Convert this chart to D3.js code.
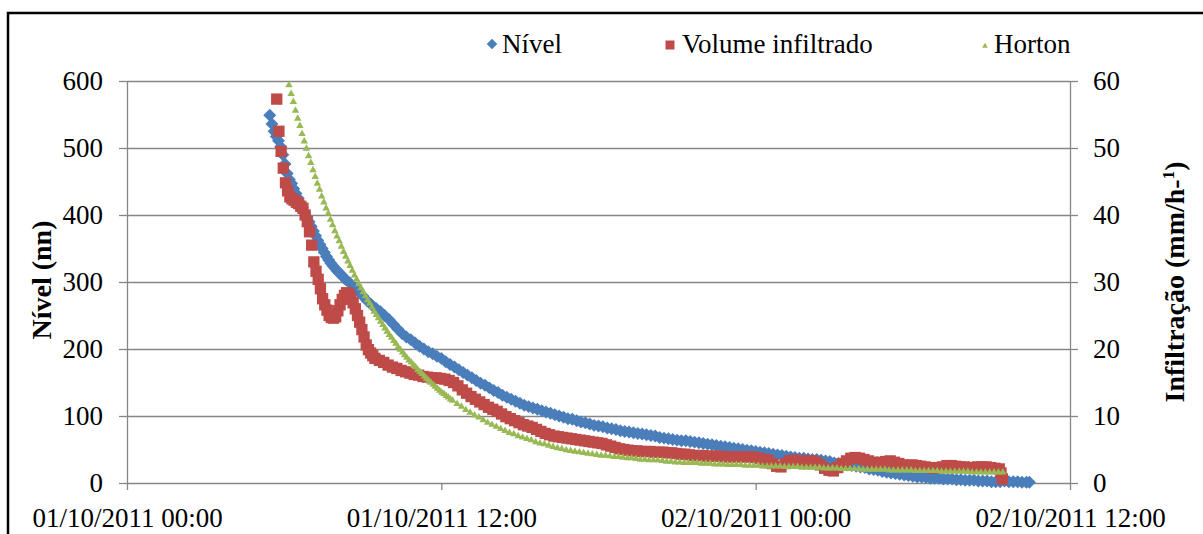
<!DOCTYPE html>
<html lang="pt">
<head>
<meta charset="UTF-8">
<title>Nível, volume infiltrado e Horton</title>
<script src="https://d3js.org/d3.v7.min.js"></script>
<style>
  body { margin: 0; background: #fff; }
  svg { display: block; font-family: "Liberation Serif", "Times New Roman", serif; }
  .axis path, .axis line { stroke: #868686; }
  .axis text { fill: #000; font-size: 27px; font-family: "Liberation Serif", "Times New Roman", serif; }
</style>
</head>
<body>
<div id="chart"></div>
<script>
// tempo em minutos desde 01/10/2011 00:00, valor
const nivel = [[327,549],[332,536],[337,525],[342,517],[347,511],[352,502],[357,490],[362,476],[367,462],[372,453],[377,447],[382,439],[387,432],[392,425],[397,418],[402,411],[407,403],[412,397],[417,390],[422,383],[427,376],[432,369],[437,362],[442,356],[447,350],[452,344],[457,338],[462,333],[467,328],[472,324],[477,320],[482,316],[487,313],[492,310],[497,306],[502,303],
  [510,299],[520,292],[530,286],[540,279],[550,272],[560,266],[570,261],[580,256],[590,250],[600,244],[610,237],[620,230],[630,223],[640,218],[650,214],[660,209],[670,204],[680,200],[690,196],[700,193],[710,189],[720,186],[730,181],[740,177],[750,173],[760,169],[770,165],[780,161],[790,157],[800,153],[810,149],[820,146],[830,142],[840,138],[850,135],[860,131],[870,128],[880,125],[890,122],[900,119],[910,116],[920,114],[930,112],[940,110],[950,108],[960,106],[970,104],[980,102],[990,100],[1000,98],[1010,96],[1020,95],[1030,93],[1040,91],[1050,90],[1060,88],[1070,86],[1080,85],[1090,84],[1100,82],[1110,81],[1120,80],[1130,78],[1140,77],[1150,76],[1160,75],[1170,74],[1180,73],[1190,72],[1200,71],[1210,70],[1220,68],[1230,67],[1240,66],[1250,65],[1260,64],[1270,63],[1280,63],[1290,62],[1300,61],[1310,60],[1320,59],[1330,58],[1340,57],[1350,56],[1360,55],[1370,54],[1380,53],[1390,52],[1400,51],[1410,50],[1420,49],[1430,48],[1440,47],[1450,46],[1460,45],[1470,44],[1480,43],[1490,42],[1500,41],[1510,40],[1520,39],[1530,38],[1540,37],[1550,37],[1560,36],[1570,35],[1580,35],[1590,34],[1600,33],[1610,32],[1620,30],[1630,29],[1640,28],[1650,27],[1660,26],[1670,25],[1680,24],[1690,23],[1700,21],[1710,20],[1720,19],[1730,17],[1740,16],[1750,15],[1760,14],[1770,13],[1780,12],[1790,11],[1800,10],[1810,9],[1820,9],[1830,8],[1840,7],[1850,7],[1860,7],[1870,6],[1880,6],[1890,6],[1900,5],[1910,5],[1920,4],[1930,4],[1940,4],[1950,3],[1960,3],[1970,3],[1980,2],[1990,2],[2000,2],[2010,3],[2020,2],[2030,2],[2040,2],[2050,1],[2060,1],[2067,1]];

const volumeInfiltrado = [[343,57.3],[348,52.5],[353,49.5],[358,47.0],[363,44.8],[368,43.6],[373,42.7],[378,42.4],[383,42.2],[388,41.9],[393,41.7],[398,41.3],[403,41.0],[408,40.0],[413,39.0],[418,37.5],[423,35.5],[428,33.0],[433,31.6],[438,30.4],[443,29.0],[448,27.5],[453,26.6],[458,25.8],[463,25.0],[468,24.7],[473,24.6],[478,24.8],[483,25.7],[488,26.6],[493,27.4],[498,28.0],[503,28.4],[508,28.2],[513,27.6],[518,26.9],[523,26.0],[528,25.0],[533,24.0],[538,22.9],[543,21.8],[548,20.6],[553,19.9],[558,19.4],[563,19.0],[568,18.6],
  [578,18.3],[588,18.0],[598,17.6],[608,17.3],[618,17.1],[628,16.8],[638,16.6],[648,16.4],[658,16.2],[668,16.1],[678,15.9],[688,15.8],[698,15.7],[708,15.7],[718,15.6],[728,15.5],[738,15.3],[748,15.0],[758,14.5],[768,13.9],[778,13.4],[788,12.9],[798,12.5],[808,12.1],[818,11.7],[828,11.3],[838,11.0],[848,10.7],[858,10.3],[868,9.9],[878,9.6],[888,9.3],[898,9.0],[908,8.7],[918,8.5],[928,8.3],[938,8.0],[948,7.7],[958,7.4],[968,7.2],[978,7.0],[988,6.9],[998,6.8],[1008,6.7],[1018,6.6],[1028,6.5],[1038,6.4],[1048,6.3],[1058,6.2],[1068,6.1],[1078,6.0],[1088,5.9],[1098,5.7],[1108,5.5],[1118,5.3],[1128,5.1],[1138,5.0],[1148,4.9],[1158,4.8],[1168,4.8],[1178,4.7],[1188,4.7],[1198,4.7],[1208,4.6],[1218,4.6],[1228,4.6],[1238,4.5],[1248,4.5],[1258,4.4],[1268,4.3],[1278,4.3],[1288,4.2],[1298,4.1],[1308,4.1],[1318,4.1],[1328,4.0],[1338,4.0],[1348,4.0],[1358,4.0],[1368,3.9],[1378,3.9],[1388,3.9],[1398,3.9],[1408,3.9],[1418,3.9],[1428,3.9],[1438,3.8],[1448,3.7],[1458,3.5],[1468,3.4],[1478,2.9],[1488,2.5],[1498,2.4],[1508,2.9],[1518,3.3],[1528,3.4],[1538,3.3],[1548,3.3],[1558,3.2],[1568,3.3],[1578,3.1],[1588,2.7],[1598,2.2],[1608,1.9],[1618,1.8],[1628,2.3],[1638,2.9],[1648,3.3],[1658,3.7],[1668,3.8],[1678,3.7],[1688,3.5],[1698,3.3],[1708,3.1],[1718,3.0],[1728,3.1],[1738,3.2],[1748,3.3],[1758,3.1],[1768,2.9],[1778,2.7],[1788,2.6],[1798,2.7],[1808,2.6],[1818,2.5],[1828,2.4],[1838,2.3],[1848,2.2],[1858,2.3],[1868,2.4],[1878,2.6],[1888,2.6],[1898,2.5],[1908,2.4],[1918,2.4],[1928,2.3],[1938,2.3],[1948,2.4],[1958,2.4],[1968,2.4],[1978,2.3],[1988,2.2],[1998,2.1],[2002,1.5],[2005,0.6]];

const horton = [[371,59.4],[376,58.1],[381,56.9],[386,55.6],[391,54.4],[396,53.3],[401,52.1],[406,51.0],[411,49.9],[416,48.8],[421,47.8],[426,46.7],[431,45.7],[436,44.7],[441,43.8],[446,42.8],[451,41.9],[456,41.0],[461,40.2],[466,39.3],[471,38.5],[476,37.6],[481,36.8],[486,36.1],[491,35.3],[496,34.5],[501,33.8],[506,33.1],[511,32.4],[516,31.7],[521,31.0],[526,30.4],[531,29.7],[536,29.1],[541,28.5],[546,27.9],[551,27.3],
  [556,26.8],[561,26.2],[566,25.6],[571,25.1],[576,24.6],[581,24.1],[586,23.6],[591,23.1],[596,22.6],[601,22.1],[606,21.7],[611,21.2],[616,20.8],[621,20.3],[626,19.9],[631,19.5],[636,19.1],[641,18.7],[646,18.3],[651,18.0],[656,17.6],[661,17.3],[666,16.9],[671,16.6],[676,16.3],[681,15.9],[686,15.6],[691,15.3],[696,15.0],[701,14.7],[706,14.4],[711,14.1],[716,13.8],[721,13.5],[726,13.3],[731,13.0],[736,12.8],[741,12.5],[746,12.3],
  [756,11.8],[766,11.4],[776,10.9],[786,10.5],[796,10.1],[806,9.8],[816,9.4],[826,9.0],[836,8.7],[846,8.4],[856,8.1],[866,7.8],[876,7.5],[886,7.3],[896,7.0],[906,6.8],[916,6.6],[926,6.4],[936,6.1],[946,5.9],[956,5.8],[966,5.6],[976,5.4],[986,5.2],[996,5.1],[1006,4.9],[1016,4.8],[1026,4.7],[1036,4.6],[1046,4.5],[1056,4.4],[1066,4.3],[1076,4.2],[1086,4.1],[1096,4.1],[1106,4.0],[1116,3.9],[1126,3.9],[1136,3.8],[1146,3.7],[1156,3.7],[1166,3.6],[1176,3.5],[1186,3.5],[1196,3.4],[1206,3.4],[1216,3.4],[1226,3.3],[1236,3.2],[1246,3.2],[1256,3.1],[1266,3.1],[1276,3.0],[1286,3.0],[1296,3.0],[1306,3.0],[1316,2.9],[1326,2.9],[1336,2.9],[1346,2.8],[1356,2.8],[1366,2.8],[1376,2.7],[1386,2.7],[1396,2.7],[1406,2.7],[1416,2.6],[1426,2.6],[1436,2.6],[1446,2.6],[1456,2.5],[1466,2.5],[1476,2.5],[1486,2.5],[1496,2.5],[1506,2.4],[1516,2.4],[1526,2.4],[1536,2.4],[1546,2.3],[1556,2.3],[1566,2.3],[1576,2.3],[1586,2.3],[1596,2.2],[1606,2.2],[1616,2.2],[1626,2.2],[1636,2.1],[1646,2.1],[1656,2.1],[1666,2.1],[1676,2.1],[1686,2.0],[1696,2.0],[1706,2.0],[1716,2.0],[1726,2.0],[1736,2.0],[1746,1.9],[1756,1.9],[1766,1.9],[1776,1.9],[1786,1.9],[1796,1.9],[1806,1.8],[1816,1.8],[1826,1.8],[1836,1.8],[1846,1.8],[1856,1.8],[1866,1.7],[1876,1.7],[1886,1.7],[1896,1.7],[1906,1.7],[1916,1.7],[1926,1.7],[1936,1.6],[1946,1.6],[1956,1.6],[1966,1.6],[1976,1.6],[1986,1.6],[1996,1.6],[2006,1.6]];

const ticksNivel = [0, 100, 200, 300, 400, 500, 600];
const ticksInfiltracao = [0, 10, 20, 30, 40, 50, 60];
const ticksTempo = ["2011-10-01T00:00", "2011-10-01T12:00", "2011-10-02T00:00", "2011-10-02T12:00"];
const legenda = ["Nível", "Volume infiltrado", "Horton"];

const W = 1203, H = 534;
const plot = { left: 127, right: 1070, top: 81, bottom: 483 };
const cores = { nivel: "#4A7EBB", volume: "#BE4B48", horton: "#98B954" };
const serif = '"Liberation Serif", "Times New Roman", serif';

const inicio = new Date(2011, 9, 1, 0, 0);
const toDate = m => new Date(inicio.getTime() + m * 60000);
const parse = d3.timeParse("%Y-%m-%dT%H:%M");

const x = d3.scaleTime()
    .domain([parse(ticksTempo[0]), parse(ticksTempo[3])])
    .range([plot.left, plot.right]);
const yL = d3.scaleLinear().domain([0, 600]).range([plot.bottom, plot.top]);
const yR = d3.scaleLinear().domain([0, 60]).range([plot.bottom, plot.top]);

const svg = d3.select("#chart").append("svg")
    .attr("width", W)
    .attr("height", H)
    .attr("font-family", serif);

svg.append("rect").attr("width", W).attr("height", H).attr("fill", "#fff");

// moldura
svg.append("path")
    .attr("d", `M8,${H + 2}V13H${W + 2}`)
    .attr("fill", "none")
    .attr("stroke", "#000")
    .attr("stroke-width", 2.5);

// grade horizontal
svg.append("g").selectAll("line")
    .data(ticksNivel.slice(1))
    .join("line")
    .attr("x1", plot.left).attr("x2", plot.right)
    .attr("y1", d => yL(d) + 0.5).attr("y2", d => yL(d) + 0.5)
    .attr("stroke", "#868686")
    .attr("stroke-width", 1.3);

// eixos
svg.append("g")
    .attr("class", "axis")
    .attr("transform", `translate(${plot.left},0)`)
    .call(d3.axisLeft(yL).tickValues(ticksNivel).tickSize(8).tickSizeOuter(0).tickPadding(16));

svg.append("g")
    .attr("class", "axis")
    .attr("transform", `translate(${plot.right},0)`)
    .call(d3.axisRight(yR).tickValues(ticksInfiltracao).tickSize(8).tickSizeOuter(0).tickPadding(15));

svg.append("g")
    .attr("class", "axis")
    .attr("transform", `translate(0,${plot.bottom})`)
    .call(d3.axisBottom(x)
        .tickValues(ticksTempo.map(parse))
        .tickSize(7)
        .tickSizeOuter(0)
        .tickPadding(18)
        .tickFormat(d3.timeFormat("%d/%m/%Y %H:%M")));

svg.selectAll(".axis").attr("font-family", serif);
svg.selectAll(".axis line, .axis path").attr("stroke-width", 1.3);

// séries
const diamante = d3.symbol().type(d3.symbolSquare).size(84)();
const quadrado = d3.symbol().type(d3.symbolSquare).size(128)();
const triangulo = d3.symbol().type(d3.symbolTriangle).size(24)();

svg.append("g").selectAll("path")
    .data(nivel)
    .join("path")
    .attr("d", diamante)
    .attr("transform", d => `translate(${x(toDate(d[0]))},${yL(d[1])}) rotate(45)`)
    .attr("fill", cores.nivel);

svg.append("g").selectAll("path")
    .data(volumeInfiltrado)
    .join("path")
    .attr("d", quadrado)
    .attr("transform", d => `translate(${x(toDate(d[0]))},${yR(d[1])})`)
    .attr("fill", cores.volume);

svg.append("g").selectAll("path")
    .data(horton)
    .join("path")
    .attr("d", triangulo)
    .attr("transform", d => `translate(${x(toDate(d[0]))},${yR(d[1])})`)
    .attr("fill", cores.horton);

// títulos dos eixos
svg.append("text")
    .attr("transform", "translate(51,280) rotate(-90)")
    .attr("text-anchor", "middle")
    .attr("font-size", 28)
    .attr("font-weight", "bold")
    .text("Nível (nn)");

const tituloDir = svg.append("text")
    .attr("transform", "translate(1184,282) rotate(-90)")
    .attr("text-anchor", "middle")
    .attr("font-size", 28)
    .attr("font-weight", "bold");
tituloDir.append("tspan").text("Infiltração (mm/h-");
tituloDir.append("tspan").attr("font-size", 17).attr("dy", -10).text("1");
tituloDir.append("tspan").attr("dy", 10).text(")");

// legenda
const leg = svg.append("g").attr("font-size", 27);
leg.append("path").attr("d", d3.symbol().type(d3.symbolSquare).size(55)())
    .attr("transform", "translate(492,44) rotate(45)").attr("fill", cores.nivel);
leg.append("text").attr("x", 502).attr("y", 53).text(legenda[0]);
leg.append("path").attr("d", d3.symbol().type(d3.symbolSquare).size(81)())
    .attr("transform", "translate(670,45)").attr("fill", cores.volume);
leg.append("text").attr("x", 682).attr("y", 53).text(legenda[1]);
leg.append("path").attr("d", d3.symbol().type(d3.symbolTriangle).size(14)())
    .attr("transform", "translate(985,46)").attr("fill", cores.horton);
leg.append("text").attr("x", 994).attr("y", 53).text(legenda[2]);
</script>
</body>
</html>
